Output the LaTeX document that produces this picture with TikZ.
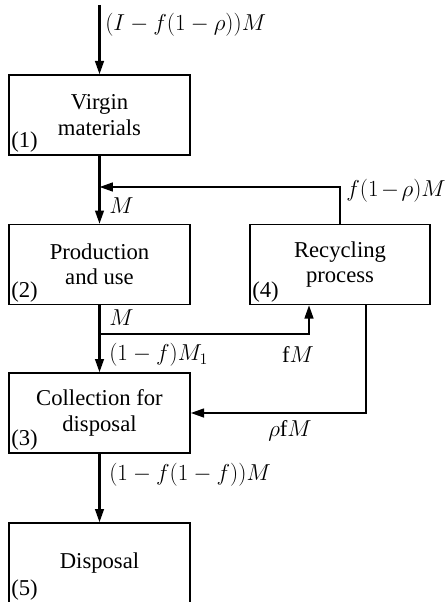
\documentclass[tikz,border=0pt]{standalone}
\usepackage{amsmath,amssymb}
\usepackage{fontspec}
\setmainfont{Liberation Serif}
\usetikzlibrary{arrows.meta}

\tikzset{
  stage/.style={draw,line width=1pt,minimum width=135.75pt,minimum height=60pt,
    align=center,inner sep=0pt,font=\fontsize{17}{19}\selectfont},
  stagenum/.style={anchor=south west,inner sep=2pt,font=\fontsize{17}{19}\selectfont},
  flow/.style={line width=1.7pt,-{Triangle[length=10pt,width=6.5pt]}},
  lbl/.style={inner sep=0.75pt,font=\fontsize{17}{19}\selectfont}
}

\begin{document}
\begin{tikzpicture}[x=0.75pt,y=0.75pt,yscale=-1,xscale=1]
\useasboundingbox (0,0) rectangle (444,602);

% Boxes
\node[stage] (virgin) at (99.5,115) {Virgin\\materials};
\node[stage] (produse) at (99.5,264.5) {Production\\and use};
\node[stage,minimum width=135pt] (recyc) at (340,264.5) {Recycling\\process};
\node[stage] (collect) at (99.5,413) {Collection for\\disposal};
\node[stage] (disp) at (99.5,563) {Disposal};

% Box numbers
\node[stagenum] (n1) at (virgin.south west) {(1)};
\node[stagenum] (n2) at (produse.south west) {(2)};
\node[stagenum] (n4) at (recyc.south west) {(4)};
\node[stagenum] (n3) at (collect.south west) {(3)};
\node[stagenum] (n5) at (disp.south west) {(5)};

% Corner points of the flow lines
\coordinate (src) at (99.5,5);
\coordinate (jn) at (99.5,187);
\coordinate (split) at (99.5,334);
\coordinate (up) at (309,334);
\coordinate (dn) at (366,413);

%Straight Lines
\draw[flow] (src) -- (virgin.north);
\draw[flow] (virgin.south) -- (produse.north);
\draw[flow] (recyc.north) |- (jn);
\draw[flow] (produse.south) -- (collect.north);
\draw[flow] (split) -- (up) -- (up |- recyc.south);
\draw[flow] (dn |- recyc.south) -- (dn) -- (collect.east);
\draw[flow] (collect.south) -- (disp.north);

% Text Node
\node[lbl,anchor=west] (lin) at (104,25) {$(I - f(1 - \rho))M$};
% Text Node
\node[lbl,anchor=west,font=\fontsize{16}{18}\selectfont] (lfb) at (345,191) {$f(1\mskip-2mu - \mskip-2mu\rho)M$};
% Text Node
\node[lbl,anchor=west] (lm1) at (108,206) {$M$};
% Text Node
\node[lbl,anchor=west] (lm2) at (108,318) {$M$};
% Text Node
\node[lbl,anchor=west] (lcol) at (108,355) {$(1 - f)M_1$};
% Text Node
\node[lbl] (lfm) at (298,355) {$\mathrm{f}M$};
% Text Node
\node[lbl] (lrho) at (290,431) {$\rho\mathrm{f}M$};
% Text Node
\node[lbl,anchor=west] (ldisp) at (108,475) {$(1 - f(1 - f))M$};

\end{tikzpicture}
\end{document}
